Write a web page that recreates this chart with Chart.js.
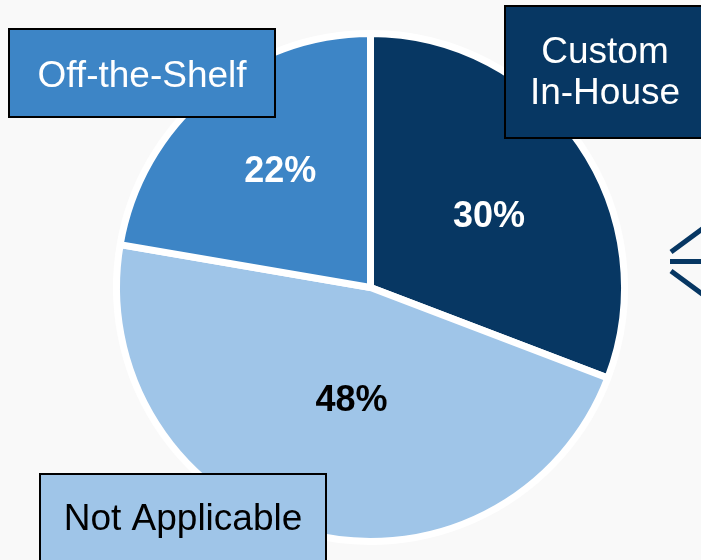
<!DOCTYPE html>
<html>
<head>
<meta charset="utf-8">
<script src="https://cdn.jsdelivr.net/npm/chart.js@4/dist/chart.umd.min.js"></script>
<style>
  html, body { margin: 0; padding: 0; background: #f9f9f9; }
  #wrap { width: 701px; height: 560px; position: relative; }
</style>
</head>
<body>
<div id="wrap"><canvas id="c" width="701" height="560"></canvas></div>
<script>
// Data (slice sizes; printed labels as shown)
const categories = ["Custom In-House", "Not Applicable", "Off-the-Shelf"];
const values = [30.8, 46.9, 22.3];
const valueLabels = ["30%", "48%", "22%"];
const colors = ["#073763", "#9fc5e8", "#3d85c6"];
const labelTextColors = ["#ffffff", "#000000", "#ffffff"];
const labelDist = [133, 125, 139];
const labelNudgeDeg = [7.6, -6.6, -0.4];

const decorPlugin = {
  id: 'decor',
  beforeDraw(chart) {
    const ctx = chart.ctx;
    ctx.save();
    ctx.fillStyle = '#f9f9f9';
    ctx.fillRect(0, 0, chart.width, chart.height);
    ctx.restore();
  },
  afterDraw(chart) {
    const ctx = chart.ctx;
    const meta = chart.getDatasetMeta(0);
    ctx.save();
    // percentage labels
    ctx.font = 'bold 36px "Liberation Sans", Arial, sans-serif';
    ctx.textAlign = 'center';
    ctx.textBaseline = 'alphabetic';
    meta.data.forEach((arc, i) => {
      const p = arc.getProps(['x', 'y', 'startAngle', 'endAngle'], true);
      const mid = (p.startAngle + p.endAngle) / 2 + labelNudgeDeg[i] * Math.PI / 180;
      const x = p.x + labelDist[i] * Math.cos(mid);
      const y = p.y + labelDist[i] * Math.sin(mid);
      ctx.fillStyle = labelTextColors[i];
      ctx.fillText(valueLabels[i], x, y);
    });

    // category boxes
    const boxes = [
      { i: 0, x: 505, y: 6, w: 198, h: 132, lines: ["Custom", "In-House"], baselines: [63, 104], cx: 605 },
      { i: 2, x: 9, y: 29, w: 266, h: 88, lines: ["Off-the-Shelf"], baselines: [87], cx: 142 },
      { i: 1, x: 40, y: 474, w: 286, h: 100, lines: ["Not Applicable"], baselines: [530], cx: 183 }
    ];
    ctx.font = '37px "Liberation Sans", Arial, sans-serif';
    ctx.textBaseline = 'alphabetic';
    boxes.forEach(b => {
      ctx.fillStyle = colors[b.i];
      ctx.fillRect(b.x, b.y, b.w, b.h);
      ctx.lineWidth = 2;
      ctx.strokeStyle = '#000000';
      ctx.strokeRect(b.x, b.y, b.w, b.h);
      ctx.fillStyle = labelTextColors[b.i];
      b.lines.forEach((t, k) => ctx.fillText(t, b.cx, b.baselines[k]));
    });

    // chevron decoration at right edge
    ctx.strokeStyle = '#073763';
    ctx.lineWidth = 5;
    ctx.lineCap = 'butt';
    ctx.beginPath();
    ctx.moveTo(671, 252); ctx.lineTo(705, 227);
    ctx.moveTo(670, 261.5); ctx.lineTo(705, 261.5);
    ctx.moveTo(671, 271); ctx.lineTo(705, 296);
    ctx.stroke();
    ctx.restore();
  }
};

new Chart(document.getElementById('c'), {
  type: 'pie',
  data: {
    labels: categories,
    datasets: [{
      data: values,
      backgroundColor: colors,
      borderColor: '#ffffff',
      borderWidth: 7
    }]
  },
  options: {
    responsive: false,
    animation: false,
    radius: 254,
    layout: { padding: { left: 40, right: 0, top: 15, bottom: 0 } },
    plugins: {
      legend: { display: false },
      tooltip: { enabled: false }
    }
  },
  plugins: [decorPlugin]
});
</script>
</body>
</html>
